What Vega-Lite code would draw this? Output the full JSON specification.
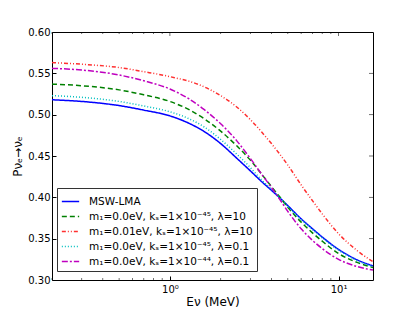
{
  "$schema": "https://vega.github.io/schema/vega-lite/v6.json",
  "autosize": "none",
  "width": 321,
  "height": 248,
  "padding": {"left": 52, "top": 32, "right": 42, "bottom": 32},
  "background": "white",
  "config": {
    "view": {"stroke": "black", "strokeWidth": 1},
    "font": "DejaVu Sans",
    "axis": {"labelFont": "DejaVu Sans", "titleFont": "DejaVu Sans", "labelColor": "black", "titleColor": "black", "domain": false, "grid": false, "tickColor": "black"}
  },
  "datasets": {
    "pts": [
      {"E": 0.2, "P": 0.518, "s": "MSW-LMA"},
      {"E": 0.3, "P": 0.516, "s": "MSW-LMA"},
      {"E": 0.5, "P": 0.511, "s": "MSW-LMA"},
      {"E": 0.7, "P": 0.5055, "s": "MSW-LMA"},
      {"E": 1.0, "P": 0.4985, "s": "MSW-LMA"},
      {"E": 1.3, "P": 0.4895, "s": "MSW-LMA"},
      {"E": 1.6, "P": 0.4795, "s": "MSW-LMA"},
      {"E": 2.0, "P": 0.465, "s": "MSW-LMA"},
      {"E": 2.5, "P": 0.447, "s": "MSW-LMA"},
      {"E": 3.0, "P": 0.432, "s": "MSW-LMA"},
      {"E": 3.5, "P": 0.419, "s": "MSW-LMA"},
      {"E": 4.0, "P": 0.4085, "s": "MSW-LMA"},
      {"E": 4.5, "P": 0.399, "s": "MSW-LMA"},
      {"E": 5.0, "P": 0.390, "s": "MSW-LMA"},
      {"E": 6.0, "P": 0.374, "s": "MSW-LMA"},
      {"E": 7.0, "P": 0.362, "s": "MSW-LMA"},
      {"E": 8.0, "P": 0.352, "s": "MSW-LMA"},
      {"E": 10.0, "P": 0.337, "s": "MSW-LMA"},
      {"E": 13.0, "P": 0.324, "s": "MSW-LMA"},
      {"E": 16.0, "P": 0.317, "s": "MSW-LMA"},

      {"E": 0.2, "P": 0.537, "s": "g"},
      {"E": 0.3, "P": 0.535, "s": "g"},
      {"E": 0.5, "P": 0.530, "s": "g"},
      {"E": 0.7, "P": 0.524, "s": "g"},
      {"E": 1.0, "P": 0.516, "s": "g"},
      {"E": 1.3, "P": 0.506, "s": "g"},
      {"E": 1.6, "P": 0.495, "s": "g"},
      {"E": 2.0, "P": 0.480, "s": "g"},
      {"E": 2.5, "P": 0.462, "s": "g"},
      {"E": 3.0, "P": 0.445, "s": "g"},
      {"E": 3.5, "P": 0.428, "s": "g"},
      {"E": 4.0, "P": 0.413, "s": "g"},
      {"E": 4.5, "P": 0.400, "s": "g"},
      {"E": 5.0, "P": 0.388, "s": "g"},
      {"E": 6.0, "P": 0.370, "s": "g"},
      {"E": 7.0, "P": 0.357, "s": "g"},
      {"E": 8.0, "P": 0.347, "s": "g"},
      {"E": 10.0, "P": 0.332, "s": "g"},
      {"E": 13.0, "P": 0.321, "s": "g"},
      {"E": 16.0, "P": 0.315, "s": "g"},

      {"E": 0.2, "P": 0.563, "s": "r"},
      {"E": 0.3, "P": 0.561, "s": "r"},
      {"E": 0.5, "P": 0.557, "s": "r"},
      {"E": 0.7, "P": 0.552, "s": "r"},
      {"E": 1.0, "P": 0.546, "s": "r"},
      {"E": 1.5, "P": 0.536, "s": "r"},
      {"E": 2.0, "P": 0.523, "s": "r"},
      {"E": 2.5, "P": 0.509, "s": "r"},
      {"E": 3.0, "P": 0.494, "s": "r"},
      {"E": 3.5, "P": 0.479, "s": "r"},
      {"E": 4.0, "P": 0.465, "s": "r"},
      {"E": 5.0, "P": 0.439, "s": "r"},
      {"E": 6.0, "P": 0.415, "s": "r"},
      {"E": 7.0, "P": 0.396, "s": "r"},
      {"E": 8.0, "P": 0.380, "s": "r"},
      {"E": 10.0, "P": 0.356, "s": "r"},
      {"E": 13.0, "P": 0.335, "s": "r"},
      {"E": 16.0, "P": 0.322, "s": "r"},

      {"E": 0.2, "P": 0.523, "s": "c"},
      {"E": 0.3, "P": 0.521, "s": "c"},
      {"E": 0.5, "P": 0.516, "s": "c"},
      {"E": 0.7, "P": 0.5105, "s": "c"},
      {"E": 1.0, "P": 0.5035, "s": "c"},
      {"E": 1.3, "P": 0.495, "s": "c"},
      {"E": 1.6, "P": 0.485, "s": "c"},
      {"E": 2.0, "P": 0.470, "s": "c"},
      {"E": 2.5, "P": 0.452, "s": "c"},
      {"E": 3.0, "P": 0.436, "s": "c"},
      {"E": 3.5, "P": 0.421, "s": "c"},
      {"E": 4.0, "P": 0.410, "s": "c"},
      {"E": 4.5, "P": 0.399, "s": "c"},
      {"E": 5.0, "P": 0.389, "s": "c"},
      {"E": 6.0, "P": 0.373, "s": "c"},
      {"E": 7.0, "P": 0.361, "s": "c"},
      {"E": 8.0, "P": 0.351, "s": "c"},
      {"E": 10.0, "P": 0.336, "s": "c"},
      {"E": 13.0, "P": 0.323, "s": "c"},
      {"E": 16.0, "P": 0.316, "s": "c"},

      {"E": 0.2, "P": 0.556, "s": "m"},
      {"E": 0.3, "P": 0.554, "s": "m"},
      {"E": 0.5, "P": 0.548, "s": "m"},
      {"E": 0.7, "P": 0.541, "s": "m"},
      {"E": 1.0, "P": 0.531, "s": "m"},
      {"E": 1.3, "P": 0.519, "s": "m"},
      {"E": 1.6, "P": 0.506, "s": "m"},
      {"E": 2.0, "P": 0.489, "s": "m"},
      {"E": 2.5, "P": 0.468, "s": "m"},
      {"E": 3.0, "P": 0.447, "s": "m"},
      {"E": 3.5, "P": 0.428, "s": "m"},
      {"E": 4.0, "P": 0.412, "s": "m"},
      {"E": 4.5, "P": 0.397, "s": "m"},
      {"E": 5.0, "P": 0.383, "s": "m"},
      {"E": 6.0, "P": 0.362, "s": "m"},
      {"E": 7.0, "P": 0.348, "s": "m"},
      {"E": 8.0, "P": 0.338, "s": "m"},
      {"E": 10.0, "P": 0.325, "s": "m"},
      {"E": 13.0, "P": 0.316, "s": "m"},
      {"E": 16.0, "P": 0.312, "s": "m"}
    ],
    "minor": [
      {"v": 0.2}, {"v": 0.3}, {"v": 0.4}, {"v": 0.5}, {"v": 0.6}, {"v": 0.7}, {"v": 0.8}, {"v": 0.9},
      {"v": 2}, {"v": 3}, {"v": 4}, {"v": 5}, {"v": 6}, {"v": 7}, {"v": 8}, {"v": 9}
    ],
    "majorx": [{"v": 1}, {"v": 10}],
    "majory": [{"p": 0.35}, {"p": 0.4}, {"p": 0.45}, {"p": 0.5}, {"p": 0.55}]
  },
  "layer": [
    {
      "data": {"name": "pts"},
      "mark": {"type": "line", "interpolate": "monotone", "strokeWidth": 1.5, "clip": true},
      "encoding": {
        "x": {
          "field": "E", "type": "quantitative",
          "scale": {"type": "log", "domain": [0.2, 16], "nice": false},
          "axis": {
            "values": [1, 10],
            "labelExpr": "datum.value == 1 ? '10⁰' : '10¹'",
            "tickSize": -4, "labelPadding": 8, "labelFontSize": 10,
            "title": "Eν (MeV)", "titleFontSize": 12, "titleFontWeight": "normal", "titlePadding": 2
          }
        },
        "y": {
          "field": "P", "type": "quantitative",
          "scale": {"domain": [0.3, 0.6], "nice": false, "zero": false},
          "axis": {
            "values": [0.3, 0.35, 0.4, 0.45, 0.5, 0.55, 0.6],
            "format": ".2f", "tickSize": -4, "labelPadding": 6, "labelFontSize": 10,
            "title": "Pνₑ→νₑ", "titleFontSize": 12, "titleFontWeight": "normal", "titlePadding": 3
          }
        },
        "color": {
          "field": "s", "type": "nominal",
          "scale": {
            "domain": ["MSW-LMA", "g", "r", "c", "m"],
            "range": ["#0000ff", "#008000", "#ff3030", "#00bfbf", "#bf00bf"]
          },
          "legend": {
            "title": null,
            "orient": "none", "legendX": 5, "legendY": 156,
            "strokeColor": "#333333", "padding": 4, "rowPadding": 0,
            "symbolType": "stroke", "symbolSize": 300, "symbolStrokeWidth": 1.5,
            "labelFontSize": 10.5, "labelColor": "black", "labelLimit": 300, "labelOffset": 9,
            "labelExpr": "datum.label == 'g' ? 'm₁=0.0eV, kₛ=1×10⁻⁴⁵, λ=10' : datum.label == 'r' ? 'm₁=0.01eV, kₛ=1×10⁻⁴⁵, λ=10' : datum.label == 'c' ? 'm₁=0.0eV, kₛ=1×10⁻⁴⁵, λ=0.1' : datum.label == 'm' ? 'm₁=0.0eV, kₛ=1×10⁻⁴⁴, λ=0.1' : datum.label"
          }
        },
        "strokeDash": {
          "field": "s", "type": "nominal",
          "scale": {
            "domain": ["MSW-LMA", "g", "r", "c", "m"],
            "range": [[1, 0], [5, 3], [4, 2, 1, 2, 1, 2], [1, 2], [6, 2, 2, 2]]
          },
          "legend": null
        }
      }
    },
    {
      "data": {"name": "minor"},
      "mark": {"type": "tick", "orient": "vertical", "color": "black", "size": 2, "thickness": 0.8, "yOffset": -1},
      "encoding": {
        "x": {"field": "v", "type": "quantitative"},
        "y": {"datum": 0.3, "type": "quantitative"}
      }
    },
    {
      "data": {"name": "minor"},
      "mark": {"type": "tick", "orient": "vertical", "color": "black", "size": 2, "thickness": 0.8, "yOffset": 1},
      "encoding": {
        "x": {"field": "v", "type": "quantitative"},
        "y": {"datum": 0.6, "type": "quantitative"}
      }
    },
    {
      "data": {"name": "majorx"},
      "mark": {"type": "tick", "orient": "vertical", "color": "black", "size": 4, "thickness": 0.8, "yOffset": 2},
      "encoding": {
        "x": {"field": "v", "type": "quantitative"},
        "y": {"datum": 0.6, "type": "quantitative"}
      }
    },
    {
      "data": {"name": "majory"},
      "mark": {"type": "tick", "orient": "horizontal", "color": "black", "size": 4, "thickness": 0.8, "xOffset": -2},
      "encoding": {
        "y": {"field": "p", "type": "quantitative"},
        "x": {"datum": 16, "type": "quantitative"}
      }
    }
  ]
}
